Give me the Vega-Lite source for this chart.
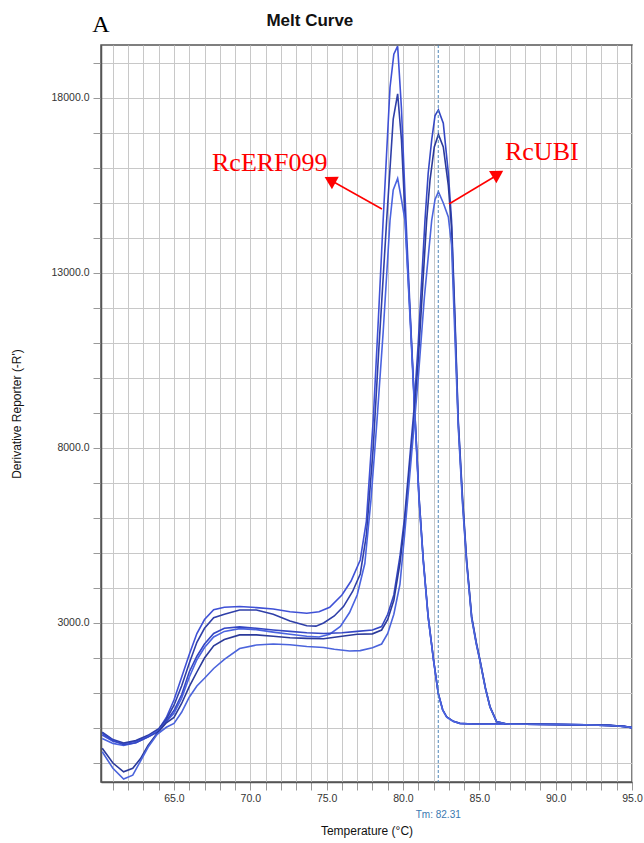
{
  "$schema": "https://vega.github.io/schema/vega-lite/v6.json",
  "width": 531,
  "height": 737,
  "autosize": {"type": "none"},
  "padding": {"left": 101, "top": 45, "right": 12, "bottom": 61},
  "config": {
    "font": "Liberation Sans",
    "view": {"stroke": "#555", "strokeWidth": 1.5},
    "axis": {"labelFont": "Liberation Sans", "titleFont": "Liberation Sans", "labelFontSize": 10.5, "labelColor": "#333", "titleFontSize": 12, "titleFontWeight": "normal", "titleColor": "#111", "gridColor": "#c8c8c8", "gridWidth": 1, "tickColor": "#999", "tickSize": 8, "tickCount": 200, "domainColor": "#555", "domainWidth": 1.5, "labelOverlap": false, "labelFlush": false}
  },
  "datasets": {
    "melt": [
      {"s":"E1","t":60.3,"v":-200},{"s":"E1","t":61.0,"v":-380},{"s":"E1","t":61.7,"v":-450},{"s":"E1","t":62.5,"v":-380},{"s":"E1","t":63.3,"v":-230},{"s":"E1","t":64.0,"v":-40},{"s":"E1","t":64.5,"v":300},{"s":"E1","t":65.0,"v":800},{"s":"E1","t":65.5,"v":1450},{"s":"E1","t":66.0,"v":2100},{"s":"E1","t":66.5,"v":2700},{"s":"E1","t":67.0,"v":3100},{"s":"E1","t":67.6,"v":3380},{"s":"E1","t":68.3,"v":3450},{"s":"E1","t":69.3,"v":3470},{"s":"E1","t":70.4,"v":3440},{"s":"E1","t":71.5,"v":3400},{"s":"E1","t":72.6,"v":3320},{"s":"E1","t":73.7,"v":3280},{"s":"E1","t":74.5,"v":3320},{"s":"E1","t":75.2,"v":3450},{"s":"E1","t":76.0,"v":3800},{"s":"E1","t":76.6,"v":4200},{"s":"E1","t":77.2,"v":4800},{"s":"E1","t":77.6,"v":5900},{"s":"E1","t":78.05,"v":8800},{"s":"E1","t":78.4,"v":11800},{"s":"E1","t":78.7,"v":14500},{"s":"E1","t":79.15,"v":18300},{"s":"E1","t":79.4,"v":19250},{"s":"E1","t":79.65,"v":19480},{"s":"E1","t":79.9,"v":17700},{"s":"E1","t":80.2,"v":14500},{"s":"E1","t":80.5,"v":11600},{"s":"E1","t":80.8,"v":8800},{"s":"E1","t":81.05,"v":6600},{"s":"E1","t":81.33,"v":4800},{"s":"E1","t":81.65,"v":3180},{"s":"E1","t":82.0,"v":1950},{"s":"E1","t":82.31,"v":990},{"s":"E1","t":82.6,"v":520},{"s":"E1","t":82.86,"v":320},{"s":"E1","t":83.3,"v":190},{"s":"E1","t":83.73,"v":133},{"s":"E1","t":84.5,"v":115},{"s":"E1","t":86.0,"v":110},{"s":"E1","t":88.0,"v":108},{"s":"E1","t":90.0,"v":100},{"s":"E1","t":92.0,"v":90},{"s":"E1","t":93.5,"v":75},{"s":"E1","t":94.5,"v":45},{"s":"E1","t":95.0,"v":10},
      {"s":"E2","t":60.3,"v":-120},{"s":"E2","t":61.0,"v":-330},{"s":"E2","t":61.7,"v":-430},{"s":"E2","t":62.5,"v":-360},{"s":"E2","t":63.3,"v":-210},{"s":"E2","t":64.0,"v":-20},{"s":"E2","t":64.5,"v":250},{"s":"E2","t":65.0,"v":650},{"s":"E2","t":65.5,"v":1200},{"s":"E2","t":66.0,"v":1850},{"s":"E2","t":66.5,"v":2450},{"s":"E2","t":67.0,"v":2850},{"s":"E2","t":67.6,"v":3150},{"s":"E2","t":68.3,"v":3250},{"s":"E2","t":69.3,"v":3370},{"s":"E2","t":70.4,"v":3370},{"s":"E2","t":71.5,"v":3250},{"s":"E2","t":72.6,"v":3060},{"s":"E2","t":73.7,"v":2920},{"s":"E2","t":74.3,"v":2910},{"s":"E2","t":74.8,"v":3000},{"s":"E2","t":75.5,"v":3200},{"s":"E2","t":76.1,"v":3470},{"s":"E2","t":76.7,"v":3900},{"s":"E2","t":77.2,"v":4400},{"s":"E2","t":77.6,"v":5500},{"s":"E2","t":78.05,"v":8000},{"s":"E2","t":78.4,"v":10700},{"s":"E2","t":78.93,"v":14500},{"s":"E2","t":79.36,"v":17400},{"s":"E2","t":79.65,"v":18120},{"s":"E2","t":79.9,"v":16800},{"s":"E2","t":80.15,"v":14500},{"s":"E2","t":80.5,"v":11500},{"s":"E2","t":80.8,"v":8800},{"s":"E2","t":81.05,"v":6600},{"s":"E2","t":81.33,"v":4800},{"s":"E2","t":81.65,"v":3180},{"s":"E2","t":82.0,"v":1950},{"s":"E2","t":82.31,"v":990},{"s":"E2","t":82.6,"v":520},{"s":"E2","t":82.86,"v":320},{"s":"E2","t":83.3,"v":190},{"s":"E2","t":83.73,"v":133},{"s":"E2","t":84.5,"v":115},{"s":"E2","t":86.0,"v":110},{"s":"E2","t":88.0,"v":107},{"s":"E2","t":90.0,"v":100},{"s":"E2","t":92.0,"v":88},{"s":"E2","t":93.5,"v":72},{"s":"E2","t":94.5,"v":42},{"s":"E2","t":95.0,"v":8},
      {"s":"E3","t":60.3,"v":-300},{"s":"E3","t":61.0,"v":-440},{"s":"E3","t":61.7,"v":-500},{"s":"E3","t":62.5,"v":-420},{"s":"E3","t":63.3,"v":-250},{"s":"E3","t":64.0,"v":-80},{"s":"E3","t":64.5,"v":180},{"s":"E3","t":65.0,"v":420},{"s":"E3","t":65.5,"v":850},{"s":"E3","t":66.0,"v":1450},{"s":"E3","t":66.5,"v":1950},{"s":"E3","t":67.0,"v":2300},{"s":"E3","t":67.6,"v":2600},{"s":"E3","t":68.3,"v":2760},{"s":"E3","t":69.3,"v":2840},{"s":"E3","t":70.4,"v":2810},{"s":"E3","t":71.5,"v":2740},{"s":"E3","t":72.6,"v":2680},{"s":"E3","t":73.7,"v":2620},{"s":"E3","t":74.5,"v":2600},{"s":"E3","t":75.2,"v":2680},{"s":"E3","t":75.9,"v":2900},{"s":"E3","t":76.5,"v":3300},{"s":"E3","t":77.0,"v":3800},{"s":"E3","t":77.5,"v":4700},{"s":"E3","t":77.9,"v":6500},{"s":"E3","t":78.3,"v":8800},{"s":"E3","t":78.7,"v":11300},{"s":"E3","t":79.15,"v":14500},{"s":"E3","t":79.36,"v":15370},{"s":"E3","t":79.65,"v":15700},{"s":"E3","t":79.9,"v":15100},{"s":"E3","t":80.13,"v":14500},{"s":"E3","t":80.5,"v":11400},{"s":"E3","t":80.8,"v":8700},{"s":"E3","t":81.05,"v":6500},{"s":"E3","t":81.33,"v":4750},{"s":"E3","t":81.65,"v":3150},{"s":"E3","t":82.0,"v":1930},{"s":"E3","t":82.31,"v":980},{"s":"E3","t":82.6,"v":510},{"s":"E3","t":82.86,"v":310},{"s":"E3","t":83.3,"v":185},{"s":"E3","t":83.73,"v":130},{"s":"E3","t":84.5,"v":112},{"s":"E3","t":86.0,"v":108},{"s":"E3","t":88.0,"v":105},{"s":"E3","t":90.0,"v":98},{"s":"E3","t":92.0,"v":86},{"s":"E3","t":93.5,"v":70},{"s":"E3","t":94.5,"v":40},{"s":"E3","t":95.0,"v":5},
      {"s":"U1","t":60.3,"v":-150},{"s":"U1","t":61.0,"v":-350},{"s":"U1","t":61.7,"v":-480},{"s":"U1","t":62.5,"v":-420},{"s":"U1","t":63.3,"v":-260},{"s":"U1","t":64.0,"v":-100},{"s":"U1","t":64.5,"v":200},{"s":"U1","t":65.0,"v":500},{"s":"U1","t":65.5,"v":950},{"s":"U1","t":66.0,"v":1600},{"s":"U1","t":66.5,"v":2050},{"s":"U1","t":67.0,"v":2400},{"s":"U1","t":67.6,"v":2700},{"s":"U1","t":68.3,"v":2850},{"s":"U1","t":69.3,"v":2890},{"s":"U1","t":70.4,"v":2850},{"s":"U1","t":71.5,"v":2800},{"s":"U1","t":72.6,"v":2760},{"s":"U1","t":73.7,"v":2720},{"s":"U1","t":74.8,"v":2700},{"s":"U1","t":76.0,"v":2720},{"s":"U1","t":77.0,"v":2760},{"s":"U1","t":78.0,"v":2800},{"s":"U1","t":78.6,"v":2900},{"s":"U1","t":79.0,"v":3250},{"s":"U1","t":79.4,"v":3800},{"s":"U1","t":79.8,"v":4900},{"s":"U1","t":80.1,"v":6000},{"s":"U1","t":80.4,"v":7500},{"s":"U1","t":80.7,"v":9000},{"s":"U1","t":81.0,"v":11000},{"s":"U1","t":81.25,"v":13000},{"s":"U1","t":81.44,"v":14500},{"s":"U1","t":81.65,"v":15850},{"s":"U1","t":81.88,"v":16800},{"s":"U1","t":82.1,"v":17500},{"s":"U1","t":82.32,"v":17660},{"s":"U1","t":82.64,"v":17280},{"s":"U1","t":82.97,"v":15850},{"s":"U1","t":83.18,"v":14500},{"s":"U1","t":83.4,"v":11800},{"s":"U1","t":83.62,"v":8800},{"s":"U1","t":83.9,"v":6600},{"s":"U1","t":84.17,"v":4800},{"s":"U1","t":84.5,"v":3180},{"s":"U1","t":84.8,"v":2450},{"s":"U1","t":85.04,"v":1950},{"s":"U1","t":85.4,"v":1150},{"s":"U1","t":85.7,"v":610},{"s":"U1","t":86.13,"v":185},{"s":"U1","t":86.8,"v":115},{"s":"U1","t":88.0,"v":112},{"s":"U1","t":90.0,"v":104},{"s":"U1","t":92.0,"v":92},{"s":"U1","t":93.5,"v":76},{"s":"U1","t":94.5,"v":46},{"s":"U1","t":95.0,"v":12},
      {"s":"U2","t":60.3,"v":-580},{"s":"U2","t":61.0,"v":-1000},{"s":"U2","t":61.7,"v":-1250},{"s":"U2","t":62.3,"v":-1150},{"s":"U2","t":62.8,"v":-880},{"s":"U2","t":63.3,"v":-500},{"s":"U2","t":63.9,"v":-150},{"s":"U2","t":64.5,"v":150},{"s":"U2","t":65.0,"v":300},{"s":"U2","t":65.5,"v":700},{"s":"U2","t":66.0,"v":1180},{"s":"U2","t":66.5,"v":1600},{"s":"U2","t":67.0,"v":2000},{"s":"U2","t":67.6,"v":2350},{"s":"U2","t":68.3,"v":2530},{"s":"U2","t":69.3,"v":2660},{"s":"U2","t":70.4,"v":2660},{"s":"U2","t":71.5,"v":2620},{"s":"U2","t":72.6,"v":2580},{"s":"U2","t":73.7,"v":2560},{"s":"U2","t":74.8,"v":2550},{"s":"U2","t":76.0,"v":2620},{"s":"U2","t":77.0,"v":2680},{"s":"U2","t":78.0,"v":2690},{"s":"U2","t":78.6,"v":2800},{"s":"U2","t":79.0,"v":3100},{"s":"U2","t":79.4,"v":3650},{"s":"U2","t":79.8,"v":4700},{"s":"U2","t":80.1,"v":5800},{"s":"U2","t":80.4,"v":7300},{"s":"U2","t":80.7,"v":8700},{"s":"U2","t":81.0,"v":10500},{"s":"U2","t":81.3,"v":12700},{"s":"U2","t":81.55,"v":14500},{"s":"U2","t":81.77,"v":15650},{"s":"U2","t":82.05,"v":16600},{"s":"U2","t":82.32,"v":16960},{"s":"U2","t":82.64,"v":16600},{"s":"U2","t":82.97,"v":15500},{"s":"U2","t":83.18,"v":14300},{"s":"U2","t":83.4,"v":11600},{"s":"U2","t":83.62,"v":8700},{"s":"U2","t":83.9,"v":6500},{"s":"U2","t":84.17,"v":4750},{"s":"U2","t":84.5,"v":3150},{"s":"U2","t":84.8,"v":2420},{"s":"U2","t":85.04,"v":1930},{"s":"U2","t":85.4,"v":1130},{"s":"U2","t":85.7,"v":600},{"s":"U2","t":86.13,"v":180},{"s":"U2","t":86.8,"v":113},{"s":"U2","t":88.0,"v":110},{"s":"U2","t":90.0,"v":102},{"s":"U2","t":92.0,"v":90},{"s":"U2","t":93.5,"v":74},{"s":"U2","t":94.5,"v":44},{"s":"U2","t":95.0,"v":10},
      {"s":"U3","t":60.3,"v":-680},{"s":"U3","t":61.0,"v":-1150},{"s":"U3","t":61.7,"v":-1460},{"s":"U3","t":62.3,"v":-1350},{"s":"U3","t":62.8,"v":-950},{"s":"U3","t":63.3,"v":-550},{"s":"U3","t":63.9,"v":-180},{"s":"U3","t":64.5,"v":20},{"s":"U3","t":65.0,"v":133},{"s":"U3","t":65.5,"v":450},{"s":"U3","t":66.0,"v":880},{"s":"U3","t":66.5,"v":1200},{"s":"U3","t":67.0,"v":1420},{"s":"U3","t":67.6,"v":1700},{"s":"U3","t":68.3,"v":1960},{"s":"U3","t":69.3,"v":2270},{"s":"U3","t":70.4,"v":2370},{"s":"U3","t":71.5,"v":2400},{"s":"U3","t":72.6,"v":2380},{"s":"U3","t":73.7,"v":2330},{"s":"U3","t":74.8,"v":2300},{"s":"U3","t":75.5,"v":2250},{"s":"U3","t":76.5,"v":2200},{"s":"U3","t":77.2,"v":2210},{"s":"U3","t":78.0,"v":2290},{"s":"U3","t":78.6,"v":2400},{"s":"U3","t":79.0,"v":2700},{"s":"U3","t":79.4,"v":3250},{"s":"U3","t":79.8,"v":4100},{"s":"U3","t":80.1,"v":5500},{"s":"U3","t":80.4,"v":7000},{"s":"U3","t":80.7,"v":8500},{"s":"U3","t":81.0,"v":10000},{"s":"U3","t":81.4,"v":12300},{"s":"U3","t":81.88,"v":14500},{"s":"U3","t":82.1,"v":15100},{"s":"U3","t":82.32,"v":15320},{"s":"U3","t":82.64,"v":15000},{"s":"U3","t":82.97,"v":14600},{"s":"U3","t":83.18,"v":13800},{"s":"U3","t":83.4,"v":11200},{"s":"U3","t":83.62,"v":8600},{"s":"U3","t":83.9,"v":6400},{"s":"U3","t":84.17,"v":4700},{"s":"U3","t":84.5,"v":3120},{"s":"U3","t":84.8,"v":2400},{"s":"U3","t":85.04,"v":1920},{"s":"U3","t":85.4,"v":1120},{"s":"U3","t":85.7,"v":590},{"s":"U3","t":86.13,"v":178},{"s":"U3","t":86.8,"v":112},{"s":"U3","t":88.0,"v":109},{"s":"U3","t":90.0,"v":101},{"s":"U3","t":92.0,"v":89},{"s":"U3","t":93.5,"v":73},{"s":"U3","t":94.5,"v":43},{"s":"U3","t":95.0,"v":9}
    ]
  },
  "layer": [
    {
      "data": {"name": "melt"},
      "mark": {"type": "line", "strokeWidth": 1.6, "clip": true},
      "encoding": {
        "x": {"field": "t", "type": "quantitative", "scale": {"domain": [60.22, 95], "nice": false, "zero": false},
          "axis": {"values": [61,62,63,64,65,66,67,68,69,70,71,72,73,74,75,76,77,78,79,80,81,82,83,84,85,86,87,88,89,90,91,92,93,94,95], "tickCount": 200, "labelExpr": "datum.value % 5 === 0 ? format(datum.value, '.1f') : ''", "title": "Temperature (°C)", "titlePadding": 22, "labelPadding": 3}},
        "y": {"field": "v", "type": "quantitative", "scale": {"domain": [-1543, 19514], "nice": false, "zero": false},
          "axis": {"values": [-1000,0,1000,2000,3000,4000,5000,6000,7000,8000,9000,10000,11000,12000,13000,14000,15000,16000,17000,18000,19000], "tickCount": 200, "labelExpr": "(datum.value - 3000) % 5000 === 0 ? format(datum.value, '.1f') : ''", "title": "Derivative Reporter (-R')", "titlePadding": 28, "labelPadding": 4}},
        "color": {"field": "s", "type": "nominal", "legend": null, "scale": {"domain": ["E1","E2","E3","U1","U2","U3"], "range": ["#3f51d6","#2f3fa8","#4a63e0","#3447c4","#2b3a9a","#4b64dc"]}},
        "detail": {"field": "s"}
      }
    },
    {
      "data": {"values": [{}]},
      "mark": {"type": "rule", "color": "#4f86b8", "strokeWidth": 1, "strokeDash": [3, 2]},
      "encoding": {"x": {"datum": 82.31}}
    },
    {
      "data": {"values": [{}]},
      "mark": {"type": "text", "text": "Tm: 82.31", "color": "#3a78b0", "fontSize": 10, "font": "Liberation Sans", "align": "center", "baseline": "middle"},
      "encoding": {"x": {"datum": 82.31}, "y": {"datum": -2486}}
    },
    {
      "data": {"values": [{}]},
      "mark": {"type": "text", "text": "Melt Curve", "color": "#111", "fontSize": 17, "fontWeight": "bold", "font": "Liberation Sans", "align": "center", "baseline": "alphabetic"},
      "encoding": {"x": {"datum": 73.9}, "y": {"datum": 20057}}
    },
    {
      "data": {"values": [{}]},
      "mark": {"type": "text", "text": "A", "color": "#000", "fontSize": 24, "font": "Liberation Serif", "align": "center", "baseline": "middle"},
      "encoding": {"x": {"datum": 60.22}, "y": {"datum": 20086}}
    },
    {
      "data": {"values": [{}]},
      "mark": {"type": "text", "text": "RcERF099", "color": "#ff0000", "fontSize": 26, "font": "Liberation Serif", "align": "left", "baseline": "alphabetic"},
      "encoding": {"x": {"datum": 67.49}, "y": {"datum": 15914}}
    },
    {
      "data": {"values": [{}]},
      "mark": {"type": "text", "text": "RcUBI", "color": "#ff0000", "fontSize": 26, "font": "Liberation Serif", "align": "left", "baseline": "alphabetic"},
      "encoding": {"x": {"datum": 86.68}, "y": {"datum": 16229}}
    },
    {
      "data": {"values": [{}]},
      "mark": {"type": "rule", "color": "#ff0000", "strokeWidth": 1.5},
      "encoding": {"x": {"datum": 78.62}, "y": {"datum": 14829}, "x2": {"datum": 75.35}, "y2": {"datum": 15629}}
    },
    {
      "data": {"values": [{}]},
      "mark": {"type": "point", "shape": "triangle-up", "filled": true, "color": "#ff0000", "opacity": 1, "size": 200, "angle": 299},
      "encoding": {"x": {"datum": 75.22}, "y": {"datum": 15657}}
    },
    {
      "data": {"values": [{}]},
      "mark": {"type": "rule", "color": "#ff0000", "strokeWidth": 1.5},
      "encoding": {"x": {"datum": 83.01}, "y": {"datum": 14971}, "x2": {"datum": 85.96}, "y2": {"datum": 15743}}
    },
    {
      "data": {"values": [{}]},
      "mark": {"type": "point", "shape": "triangle-up", "filled": true, "color": "#ff0000", "opacity": 1, "size": 200, "angle": 59},
      "encoding": {"x": {"datum": 86.22}, "y": {"datum": 15829}}
    }
  ]
}
